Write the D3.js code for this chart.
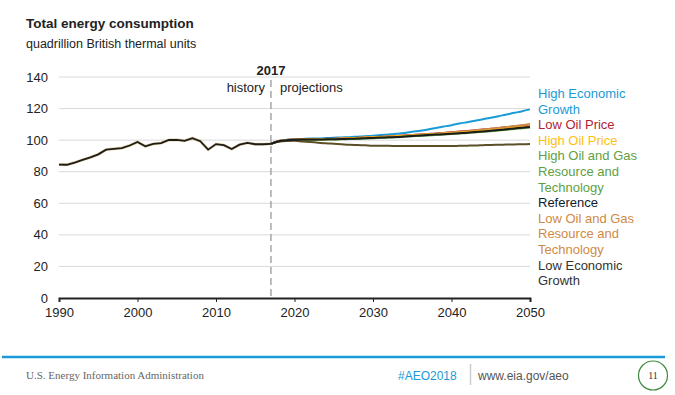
<!DOCTYPE html>
<html>
<head>
<meta charset="utf-8">
<script src="https://cdn.jsdelivr.net/npm/d3@7"></script>
<style>
  body { margin: 0; background: #fff; }
  svg { display: block; font-family: "Liberation Sans", Arial, sans-serif; }
</style>
</head>
<body>
<svg id="chart" width="675" height="395"></svg>
<script>
// data
const histYears = d3.range(1990, 2018);
const history = [84.5, 84.4, 85.8, 87.5, 89.1, 91.0, 94.0, 94.5, 95.0, 96.6, 98.8, 96.1, 97.6, 98.1,
  100.1, 100.2, 99.6, 101.3, 99.3, 94.0, 97.5, 96.8, 94.4, 97.1, 98.3, 97.4, 97.4, 97.7];

const projYears = d3.range(2017, 2051);
const highEcon = [97.7, 99.4, 100.2, 100.6, 100.8, 101.0, 101.1, 101.3, 101.5, 101.7, 101.9, 102.2, 102.5, 102.8,
  103.2, 103.6, 104.0, 104.5, 105.3, 106.0, 106.8, 107.7, 108.6, 109.5, 110.5, 111.4, 112.3, 113.2,
  114.2, 115.2, 116.2, 117.3, 118.3, 119.5];
const lowOilPrice = [97.7, 99.4, 100.1, 100.4, 100.5, 100.6, 100.7, 100.8, 100.9, 101.1, 101.3, 101.5, 101.7, 101.9,
  102.1, 102.4, 102.7, 103.0, 103.3, 103.6, 103.9, 104.2, 104.6, 105.0, 105.4, 105.8, 106.2, 106.7,
  107.2, 107.7, 108.2, 108.7, 109.3, 109.9];
const lowOGRT = [97.7, 99.4, 100.1, 100.4, 100.5, 100.5, 100.6, 100.7, 100.8, 101.0, 101.2, 101.4, 101.6, 101.8,
  102.0, 102.3, 102.6, 102.9, 103.2, 103.5, 103.8, 104.1, 104.5, 104.9, 105.3, 105.7, 106.2, 106.7,
  107.2, 107.7, 108.3, 108.9, 109.4, 110.0];
const highOilPrice = [97.7, 99.2, 99.9, 100.2, 100.3, 100.4, 100.5, 100.6, 100.8, 101.0, 101.2, 101.4, 101.6, 101.8,
  102.0, 102.2, 102.4, 102.6, 102.9, 103.2, 103.5, 103.8, 104.1, 104.4, 104.7, 105.0, 105.4, 105.8,
  106.2, 106.7, 107.2, 107.7, 108.2, 108.7];
const highOGRT = [97.7, 99.2, 99.8, 100.1, 100.1, 100.1, 100.2, 100.3, 100.4, 100.5, 100.7, 100.8, 101.0, 101.2,
  101.4, 101.6, 101.8, 102.1, 102.4, 102.7, 103.0, 103.3, 103.6, 103.9, 104.2, 104.5, 104.9, 105.3,
  105.7, 106.1, 106.6, 107.1, 107.5, 108.0];
const lowEcon = [97.7, 99.1, 99.5, 99.6, 99.2, 98.8, 98.4, 98.0, 97.7, 97.4, 97.1, 96.9, 96.7, 96.5,
  96.4, 96.4, 96.3, 96.3, 96.3, 96.3, 96.3, 96.3, 96.3, 96.3, 96.4, 96.5, 96.6, 96.8,
  97.0, 97.1, 97.2, 97.3, 97.4, 97.5];
const reference = [97.7, 99.3, 100.0, 100.3, 100.4, 100.4, 100.4, 100.5, 100.6, 100.7, 100.9, 101.0, 101.2, 101.4,
  101.6, 101.8, 102.0, 102.3, 102.6, 102.9, 103.2, 103.5, 103.8, 104.1, 104.4, 104.7, 105.1, 105.5,
  105.9, 106.4, 106.9, 107.4, 107.9, 108.4];

const yTicks = [0, 20, 40, 60, 80, 100, 120, 140];
const xTicks = [1990, 2000, 2010, 2020, 2030, 2040, 2050];

// drawing order: last one on top
const series = [
  { values: highEcon, color: "#1a9ad6" },
  { values: lowOilPrice, color: "#b01f35" },
  { values: lowOGRT, color: "#d08a45" },
  { values: highOilPrice, color: "#fdc010" },
  { values: highOGRT, color: "#5fa044" },
  { values: lowEcon, color: "#5c4f28" },
  { values: reference, color: "#1c1c1c" }
];

const legend = [
  { lines: ["High Economic", "Growth"], color: "#1a9ad6" },
  { lines: ["Low Oil Price"], color: "#b01f35" },
  { lines: ["High Oil Price"], color: "#fdc010" },
  { lines: ["High Oil and Gas", "Resource and", "Technology"], color: "#5fa044" },
  { lines: ["Reference"], color: "#0e1c2e" },
  { lines: ["Low Oil and Gas", "Resource and", "Technology"], color: "#d08a45" },
  { lines: ["Low Economic", "Growth"], color: "#333333" }
];

const svg = d3.select("#chart");
const x = d3.scaleLinear().domain([1990, 2050]).range([59, 530]);
const y = d3.scaleLinear().domain([0, 140]).range([298, 77]);

// titles
svg.append("text").attr("x", 26).attr("y", 28)
  .attr("font-size", 13.5).attr("font-weight", "bold").attr("fill", "#222")
  .text("Total energy consumption");
svg.append("text").attr("x", 26).attr("y", 48)
  .attr("font-size", 12.5).attr("fill", "#222")
  .text("quadrillion British thermal units");

// gridlines
svg.append("g").selectAll("line").data(yTicks.filter(d => d > 0)).join("line")
  .attr("x1", x(1990)).attr("x2", x(2050))
  .attr("y1", d => y(d)).attr("y2", d => y(d))
  .attr("stroke", "#d9d9d9").attr("stroke-width", 1);

// y axis labels
svg.append("g").selectAll("text").data(yTicks).join("text")
  .attr("x", 48).attr("y", d => y(d) + 4.5)
  .attr("text-anchor", "end").attr("font-size", 13).attr("fill", "#222")
  .text(d => d);

// x axis
const xAxis = svg.append("g").attr("transform", `translate(0,${y(0)})`)
  .call(d3.axisBottom(x).tickValues(xTicks).tickFormat(d3.format("d")).tickSize(4).tickPadding(6));
xAxis.select(".domain").attr("stroke", "#222").attr("stroke-width", 2);
xAxis.selectAll(".tick line").attr("stroke", "#222");
xAxis.selectAll(".tick text").attr("font-size", 13).attr("fill", "#222")
  .attr("font-family", "Liberation Sans, Arial, sans-serif");

// 2017 divider
svg.append("line").attr("x1", x(2017)).attr("x2", x(2017))
  .attr("y1", 80).attr("y2", y(0))
  .attr("stroke", "#999").attr("stroke-width", 1.3).attr("stroke-dasharray", "7,4");
svg.append("text").attr("x", x(2017)).attr("y", 75).attr("text-anchor", "middle")
  .attr("font-size", 13).attr("font-weight", "bold").attr("fill", "#222").text("2017");
svg.append("text").attr("x", x(2017) - 6).attr("y", 92).attr("text-anchor", "end")
  .attr("font-size", 13).attr("fill", "#222").text("history");
svg.append("text").attr("x", x(2017) + 9).attr("y", 92)
  .attr("font-size", 13).attr("fill", "#222").text("projections");

// lines
const line = d3.line().x(d => x(d[0])).y(d => y(d[1])).curve(d3.curveMonotoneX);
svg.append("g").selectAll("path").data(series).join("path")
  .attr("fill", "none").attr("stroke", d => d.color).attr("stroke-width", 2)
  .attr("d", d => line(projYears.map((yr, i) => [yr, d.values[i]])));

const histPts = histYears.map((yr, i) => [yr, history[i]]);
svg.append("path").attr("fill", "none").attr("stroke", "#c9a23a").attr("stroke-width", 3)
  .attr("stroke-opacity", 0.45)
  .attr("d", d3.line().x(d => x(d[0])).y(d => y(d[1]))(histPts));
svg.append("path").attr("fill", "none").attr("stroke", "#1c1c1c").attr("stroke-width", 1.8)
  .attr("d", d3.line().x(d => x(d[0])).y(d => y(d[1]))(histPts));

// legend labels
let row = 0;
const lg = svg.append("g");
legend.forEach(item => {
  item.lines.forEach(t => {
    lg.append("text").attr("x", 538).attr("y", 98 + row * 15.6)
      .attr("font-size", 13).attr("fill", item.color).text(t);
    row++;
  });
});

// footer
svg.append("line").attr("x1", 2).attr("x2", 665).attr("y1", 357).attr("y2", 357)
  .attr("stroke", "#1a9ad6").attr("stroke-width", 2.5);
svg.append("text").attr("x", 26).attr("y", 379)
  .attr("font-family", "Liberation Serif, Times New Roman, serif")
  .attr("font-size", 11).attr("fill", "#666")
  .text("U.S. Energy Information Administration");
svg.append("text").attr("x", 398).attr("y", 380)
  .attr("font-size", 12).attr("fill", "#1a9ad6").text("#AEO2018");
svg.append("line").attr("x1", 470.5).attr("x2", 470.5).attr("y1", 364).attr("y2", 385)
  .attr("stroke", "#ccc").attr("stroke-width", 1.5);
svg.append("text").attr("x", 478).attr("y", 380)
  .attr("font-size", 12).attr("fill", "#555").text("www.eia.gov/aeo");
svg.append("circle").attr("cx", 653).attr("cy", 375.5).attr("r", 14.5)
  .attr("fill", "none").attr("stroke", "#3c8a3c").attr("stroke-width", 1.2);
svg.append("text").attr("x", 653).attr("y", 379).attr("text-anchor", "middle")
  .attr("font-family", "Liberation Serif, Times New Roman, serif")
  .attr("font-size", 10).attr("fill", "#333").text("11");
</script>
</body>
</html>
